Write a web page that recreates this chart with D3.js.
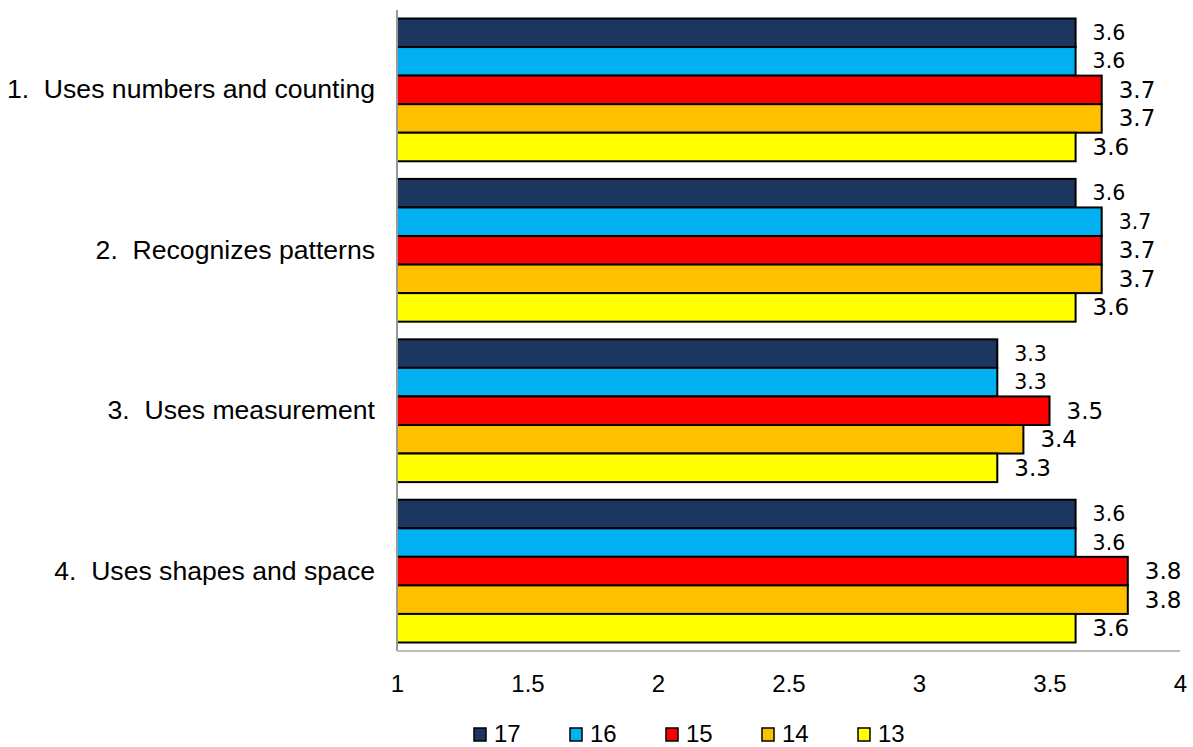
<!DOCTYPE html>
<html><head><meta charset="utf-8">
<script src="https://cdn.jsdelivr.net/npm/d3@7"></script>
<style>body{margin:0;background:#fff}svg{display:block}text{white-space:pre}</style>
</head><body>
<svg id="c" width="1193" height="747"></svg>
<script>
const categories = ["1.  Uses numbers and counting","2.  Recognizes patterns","3.  Uses measurement","4.  Uses shapes and space"];
const seriesNames = ["17","16","15","14","13"];
const seriesColors = ["#1b375f","#00b0f0","#ff0000","#ffc000","#ffff00"];
const s17 = [3.6,3.6,3.3,3.6];
const s16 = [3.6,3.7,3.3,3.6];
const s15 = [3.7,3.7,3.5,3.8];
const s14 = [3.7,3.7,3.4,3.8];
const s13 = [3.6,3.6,3.3,3.6];
const seriesValues = [s17,s16,s15,s14,s13];
const xTicks = [1,1.5,2,2.5,3,3.5,4];

(function(){
const svg = d3.select("#c");
const pL = 397, pR = 1180, pT = 10, pB = 651;
const x = d3.scaleLinear().domain([1,4]).range([pL,pR]);
const y0 = d3.scaleBand().domain(categories).range([pT,pB]).paddingInner(0.11).paddingOuter(0.053);
const y1 = d3.scaleBand().domain(seriesNames).range([0,y0.bandwidth()]);

const g = svg.append("g");
categories.forEach((cat,ci)=>{
  seriesNames.forEach((sn,si)=>{
    const v = seriesValues[si][ci];
    const yy = y0(cat)+y1(sn);
    g.append("rect").attr("x",x(1)).attr("y",yy).attr("width",x(v)-x(1)).attr("height",y1.bandwidth())
      .attr("fill",seriesColors[si]).attr("stroke","#000").attr("stroke-width",2);
    g.append("text").attr("x",x(v)+17).attr("y",yy+y1.bandwidth()/2)
      .attr("dominant-baseline","central")
      .attr("font-family","DejaVu Sans").attr("font-size", si<2?20.5:23).attr("fill","#000")
      .text(v.toFixed(1));
  });
});

svg.append("line").attr("x1",pL).attr("x2",pL).attr("y1",pT).attr("y2",pB).attr("stroke","#999").attr("stroke-width",2);
svg.append("line").attr("x1",pL).attr("x2",pR).attr("y1",pB).attr("y2",pB).attr("stroke","#bbb").attr("stroke-width",2);

const xa = svg.append("g").attr("transform",`translate(0,${pB})`)
  .call(d3.axisBottom(x).tickValues(xTicks).tickSize(0).tickPadding(24).tickFormat(d=>String(d)));
xa.select(".domain").remove();
xa.attr("font-family","Liberation Sans, Arial").attr("font-size",24);
xa.selectAll("text").attr("fill","#000");

const ya = svg.append("g").attr("transform",`translate(${pL},0)`)
  .call(d3.axisLeft(y0).tickSize(0).tickPadding(22));
ya.select(".domain").remove();
ya.attr("font-family","Liberation Sans, Arial").attr("font-size",26.6);
ya.selectAll("text").attr("fill","#000").attr("xml:space","preserve");

const legX = [474,570,666,762,858];
const leg = svg.append("g");
seriesNames.forEach((sn,i)=>{
  leg.append("rect").attr("x",legX[i]).attr("y",728).attr("width",12).attr("height",13)
    .attr("fill",seriesColors[i]).attr("stroke","#000").attr("stroke-width",1.5);
  leg.append("text").attr("x",legX[i]+20).attr("y",742).attr("font-family","Liberation Sans, Arial")
    .attr("font-size",24).attr("fill","#000").text(sn);
});
})();
</script>
</body></html>
